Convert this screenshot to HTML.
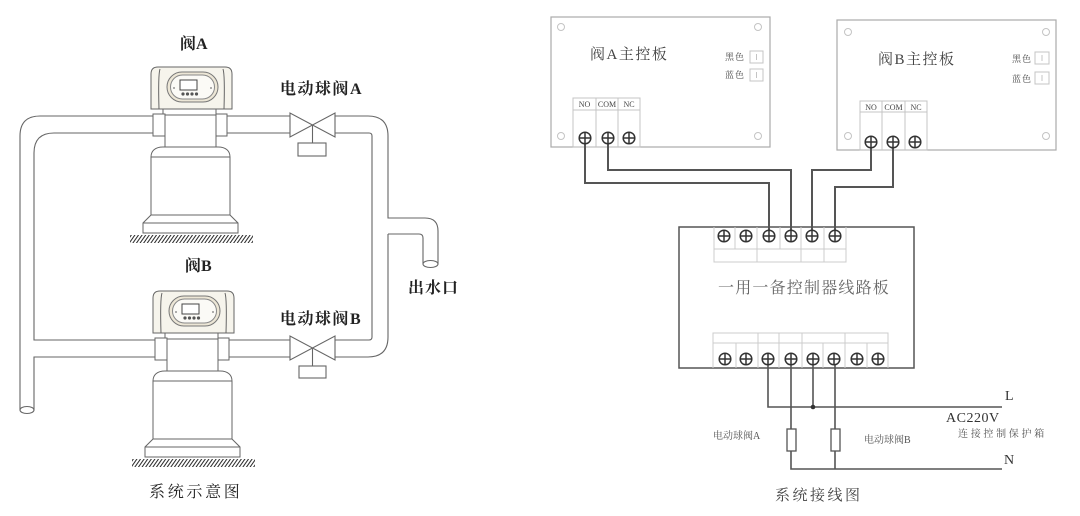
<!DOCTYPE html>
<html><head><meta charset="utf-8"><style>
html,body{margin:0;padding:0;background:#fff;}
svg{display:block;}
.s{font-family:"Liberation Serif","Noto Serif CJK SC",serif;}
</style></head><body>
<svg width="1080" height="516" viewBox="0 0 1080 516" xmlns="http://www.w3.org/2000/svg">
<defs>
<pattern id="hatch" width="3.6" height="10" patternUnits="userSpaceOnUse" patternTransform="skewX(-35)"><rect x="0" y="0" width="1.3" height="10" fill="#333"/></pattern>
<g id="unit" stroke="#666" stroke-width="1" fill="none">
  <path d="M151,109 L151,74 Q151,67 158,67 L225,67 Q232,67 232,74 L232,109 Z" fill="#f6f4ec"/>
  <path d="M160,69 Q158,75 159,109 M223,69 Q225,75 224,109"/>
  <rect x="167" y="72" width="51" height="30" rx="15" fill="#ece6d6" stroke="#777"/>
  <rect x="170.5" y="75" width="44" height="24" rx="12" fill="#fbfaf6" stroke="#888"/>
  <rect x="180" y="80" width="17" height="10" fill="#fff" stroke="#444"/>
  <circle cx="183" cy="94" r="1.6" fill="#555" stroke="none"/>
  <circle cx="187.5" cy="94" r="1.6" fill="#555" stroke="none"/>
  <circle cx="192" cy="94" r="1.6" fill="#555" stroke="none"/>
  <circle cx="196.5" cy="94" r="1.6" fill="#555" stroke="none"/>
  <circle cx="174" cy="88" r="0.9" fill="#777" stroke="none"/>
  <circle cx="211" cy="88" r="0.9" fill="#777" stroke="none"/>
  <rect x="163" y="109" width="53" height="6" fill="#fff"/>
  <rect x="165" y="115" width="51" height="32" fill="#fff"/>
  <rect x="153" y="114" width="12" height="22" fill="#fff"/>
  <rect x="216" y="114" width="11" height="22" fill="#fff"/>
  <path d="M163,147 L218,147 C226,147 230,151 230,157 L230,215 L238,223 L238,233 L143,233 L143,223 L151,215 L151,157 C151,151 155,147 163,147 Z" fill="#fff"/>
  <path d="M151,157 H230 M151,215 H230 M143,223 H238"/>
  <rect x="130" y="235" width="123" height="8" fill="url(#hatch)" stroke="none"/>
</g>
<g id="screw"><circle r="5.8" fill="#fff" stroke="#333" stroke-width="1.5"/><path d="M-5.8 0H5.8M0 -5.8V5.8" stroke="#333" stroke-width="1.5"/></g>
</defs>

<!-- LEFT: pipes -->
<g stroke="#666" stroke-width="1.1" fill="none">
  <path d="M153,116 H40 Q20,116 20,136 V410"/>
  <path d="M153,133 H54 Q34,133 34,153 V340 H155"/>
  <path d="M155,357 H34 V410"/>
  <ellipse cx="27" cy="410" rx="7" ry="3.5"/>
  <path d="M227,116 H290 M227,133 H290"/>
  <path d="M335,116 H368 Q388,116 388,136 V218 H425 Q438,218 438,231 V264"/>
  <path d="M335,133 H369 Q372,133 372,136 V337 Q372,340 369,340 H335"/>
  <path d="M388,234 V337 Q388,357 368,357 H335"/>
  <path d="M388,234 H419 Q423,234 423,238 V264"/>
  <ellipse cx="430.5" cy="264" rx="7.5" ry="3.5"/>
  <path d="M229,340 H290 M229,357 H290"/>
  <path d="M290,113 V137 L335,113 V137 Z" fill="#fff"/>
  <path d="M312.5,125 V143"/>
  <rect x="298" y="143" width="28" height="13" fill="#fff"/>
  <path d="M290,336 V360 L335,336 V360 Z" fill="#fff"/>
  <path d="M312.5,348 V366"/>
  <rect x="299" y="366" width="27" height="12" fill="#fff"/>
</g>
<use href="#unit"/>
<use href="#unit" transform="translate(2,224)"/>

<g class="s" fill="#222" font-weight="bold" font-size="16">
  <text x="180" y="49">阀A</text>
  <text x="280" y="94" letter-spacing="1.5">电动球阀A</text>
  <text x="185" y="271">阀B</text>
  <text x="280" y="324" letter-spacing="1.5">电动球阀B</text>
  <text x="408" y="293" letter-spacing="1">出水口</text>
</g>
<text class="s" x="149" y="497" font-size="16" fill="#222" letter-spacing="2.7">系统示意图</text>

<!-- RIGHT: boards -->
<g stroke="#aaa" stroke-width="1.2" fill="none">
  <rect x="551" y="17" width="219" height="130"/>
  <rect x="837" y="20" width="219" height="130"/>
</g>
<g stroke="#c4c4c4" stroke-width="1" fill="none">
  <circle cx="561" cy="27" r="3.5"/><circle cx="758" cy="27" r="3.5"/>
  <circle cx="561" cy="136" r="3.5"/><circle cx="758" cy="136" r="3.5"/>
  <circle cx="848" cy="32" r="3.5"/><circle cx="1046" cy="32" r="3.5"/>
  <circle cx="848" cy="136" r="3.5"/><circle cx="1046" cy="136" r="3.5"/>
  <rect x="750" y="51" width="13" height="12"/><rect x="750" y="69" width="13" height="12"/>
  <rect x="1035" y="52" width="14" height="12"/><rect x="1035" y="72" width="14" height="12"/>
  <path d="M756.5,54 V60 M756.5,72 V78 M1042,55 V61 M1042,75 V81"/>
  <rect x="573" y="98" width="67" height="49"/>
  <path d="M573,110 H640 M596,98 V147 M618,98 V147"/>
  <rect x="860" y="101" width="67" height="49"/>
  <path d="M860,112 H927 M882,101 V150 M905,101 V150"/>
</g>
<g class="s" fill="#444">
  <text x="590" y="59" font-size="15" letter-spacing="1.5">阀A主控板</text>
  <text x="878" y="64" font-size="15" letter-spacing="1.5">阀B主控板</text>
  <g font-size="9" letter-spacing="1">
    <text x="725" y="60">黑色</text><text x="725" y="78">蓝色</text>
    <text x="1012" y="62">黑色</text><text x="1012" y="82">蓝色</text>
  </g>
  <g font-size="8" text-anchor="middle">
    <text x="584.5" y="107">NO</text><text x="607" y="107">COM</text><text x="629" y="107">NC</text>
    <text x="871" y="110">NO</text><text x="893.5" y="110">COM</text><text x="916" y="110">NC</text>
  </g>
</g>

<!-- wires top -->
<g stroke="#555" stroke-width="2" fill="none">
  <path d="M585,140 V183 H769 V236"/>
  <path d="M608,140 V170 H791 V236"/>
  <path d="M871,144 V170 H812 V236"/>
  <path d="M893,144 V187 H835 V236"/>
</g>
<use href="#screw" x="585" y="138"/><use href="#screw" x="608" y="138"/><use href="#screw" x="629" y="138"/>
<use href="#screw" x="871" y="142"/><use href="#screw" x="893" y="142"/><use href="#screw" x="915" y="142"/>

<!-- controller -->
<rect x="679" y="227" width="235" height="141" fill="none" stroke="#555" stroke-width="1.5"/>
<g stroke="#ccc" stroke-width="1" fill="none">
  <path d="M714,227 V262 H846 V227 M714,249 H846"/>
  <path d="M735,227 V249 M757,227 V262 M780,227 V249 M801,227 V262 M824,227 V262"/>
  <path d="M713,368 V333 H888 V368 M713,343 H888"/>
  <path d="M758,333 V368 M779,333 V368 M802,333 V368 M845,333 V368 M736,343 V368 M823,343 V368 M867,343 V368"/>
</g>
<use href="#screw" x="724" y="236"/><use href="#screw" x="746" y="236"/>
<use href="#screw" x="769" y="236"/><use href="#screw" x="791" y="236"/>
<use href="#screw" x="812" y="236"/><use href="#screw" x="835" y="236"/>
<text class="s" x="718" y="293" font-size="16" fill="#666" letter-spacing="1.2">一用一备控制器线路板</text>

<!-- bottom wires -->
<g stroke="#555" stroke-width="1.6" fill="none">
  <path d="M768,362 V407 H1002"/>
  <path d="M813,362 V407"/>
  <path d="M791,362 V429 M791,451 V469 H1002"/>
  <path d="M835,362 V429 M835,451 V469"/>
  <rect x="787" y="429" width="9" height="22" fill="#fff" stroke-width="1.3"/>
  <rect x="831" y="429" width="9" height="22" fill="#fff" stroke-width="1.3"/>
</g>
<circle cx="813" cy="407" r="2.3" fill="#333"/>
<use href="#screw" x="725" y="359"/><use href="#screw" x="746" y="359"/>
<use href="#screw" x="768" y="359"/><use href="#screw" x="791" y="359"/>
<use href="#screw" x="813" y="359"/><use href="#screw" x="834" y="359"/>
<use href="#screw" x="857" y="359"/><use href="#screw" x="878" y="359"/>

<g class="s" fill="#333">
  <text x="1005" y="400" font-size="14">L</text>
  <text x="1004" y="464" font-size="14">N</text>
  <text x="946" y="422" font-size="14" letter-spacing="0.5">AC220V</text>
  <text x="958" y="437" font-size="10" fill="#555" letter-spacing="2.7">连接控制保护箱</text>
  <text x="713" y="439" font-size="10" fill="#555">电动球阀A</text>
  <text x="864" y="443" font-size="10" fill="#555">电动球阀B</text>
  <text x="775" y="500" font-size="15" fill="#444" letter-spacing="2.5">系统接线图</text>
</g>
</svg>
</body></html>
